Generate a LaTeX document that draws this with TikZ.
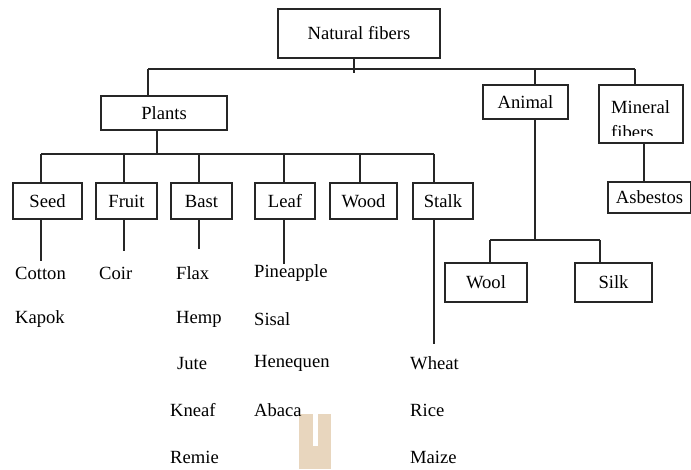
\documentclass[tikz,border=0pt]{standalone}
\usepackage{fontspec}
\setmainfont{Liberation Serif}
\begin{document}
\begin{tikzpicture}[x=1pt,y=-1pt,
  line/.style={draw=black!85,line width=1.1pt},
  box/.style={draw=black!85,line width=1.1pt,inner sep=0pt,text=black,
    font=\fontsize{18.6}{20}\selectfont},
  item/.style={anchor=west,inner sep=0pt,text=black,font=\fontsize{18.6}{20}\selectfont}]
\useasboundingbox[fill=white] (0,0) rectangle (691,469);
% watermark patch
\fill[fill={rgb,255:red,232;green,214;blue,190}] (299,414) rectangle (331,469);
\fill[white] (313,414) rectangle (318,446);
% boxes
\node[box,minimum width=162pt,minimum height=49pt] (nat) at (359,33.5) {Natural fibers};
\node[box,minimum width=126pt,minimum height=34pt] (plants) at (164,113) {Plants};
\node[box,minimum width=85pt,minimum height=34pt] (animal) at (525.5,102) {Animal};
\node[box,minimum width=84pt,minimum height=58pt] (mineral) at (641,114) {};
\node[item] (minA) at (611,107) {Mineral};
\begin{scope}
\clip (600,120) rectangle (682,135.5);
\node[item] (minB) at (611,132) {fibers};
\end{scope}
\node[box,minimum width=83pt,minimum height=31pt] (asb) at (649.5,197.5) {Asbestos};
\node[box,minimum width=69pt,minimum height=36pt] (seed) at (47.5,201) {Seed};
\node[box,minimum width=61pt,minimum height=36pt] (fruit) at (126.5,201) {Fruit};
\node[box,minimum width=61pt,minimum height=36pt] (bast) at (201.5,201) {Bast};
\node[box,minimum width=60pt,minimum height=36pt] (leaf) at (285,201) {Leaf};
\node[box,minimum width=67pt,minimum height=36pt] (wood) at (363.5,201) {Wood};
\node[box,minimum width=60pt,minimum height=36pt] (stalk) at (443,201) {Stalk};
\node[box,minimum width=82pt,minimum height=39pt] (wool) at (486,282.5) {Wool};
\node[box,minimum width=77pt,minimum height=39pt] (silk) at (613.5,282.5) {Silk};
% lists
\node[item] (cotton) at (15,273) {Cotton};
\node[item] (kapok) at (15,319) {Kapok};
\node[item] (coir) at (99,273) {Coir};
\node[item] (flax) at (176,273) {Flax};
\node[item] (hemp) at (176,319) {Hemp};
\node[item] (jute) at (177,363) {Jute};
\node[item] (kneaf) at (170,410) {Kneaf};
\node[item] (remie) at (170,457) {Remie};
\node[item] (pine) at (254,273) {Pineapple};
\node[item] (sisal) at (254,319) {Sisal};
\node[item] (hene) at (254,363) {Henequen};
\node[item] (abaca) at (254,410) {Abaca};
\node[item] (wheat) at (410,363) {Wheat};
\node[item] (rice) at (410,410) {Rice};
\node[item] (maize) at (410,457) {Maize};
% junction coordinates
\coordinate (tn) at (354,69);
\coordinate (tp) at (148,69);
\coordinate (ta) at (535,69);
\coordinate (tm) at (635,69);
\coordinate (pn) at (157,154);
\coordinate (cs) at (41,154);
\coordinate (cf) at (124,154);
\coordinate (cb) at (199,154);
\coordinate (cl) at (284,154);
\coordinate (cw) at (360,154);
\coordinate (ct) at (434,154);
\coordinate (am) at (535,240);
\coordinate (aw) at (490,240);
\coordinate (ak) at (600,240);
\coordinate (mx) at (644,160);
% top level
\draw[line] (tp) -- (tm);
\draw[line] (nat.south -| tn) -- ++(0,14);
\draw[line] (tp) -- (plants.north -| tp);
\draw[line] (ta) -- (animal.north -| ta);
\draw[line] (tm) -- (mineral.north -| tm);
\draw[line] (mineral.south -| mx) -- (asb.north -| mx);
% plants
\draw[line] (plants.south -| pn) -- (pn);
\draw[line] (cs) -- (ct);
\draw[line] (cs) -- (seed.north -| cs);
\draw[line] (cf) -- (fruit.north -| cf);
\draw[line] (cb) -- (bast.north -| cb);
\draw[line] (cl) -- (leaf.north -| cl);
\draw[line] (cw) -- (wood.north -| cw);
\draw[line] (ct) -- (stalk.north -| ct);
\draw[line] (seed.south -| cs) -- ++(0,41);
\draw[line] (fruit.south -| cf) -- ++(0,31);
\draw[line] (bast.south -| cb) -- ++(0,29);
\draw[line] (leaf.south -| cl) -- ++(0,44);
\draw[line] (stalk.south -| ct) -- ++(0,124);
% animal
\draw[line] (animal.south -| am) -- (am);
\draw[line] (aw) -- (ak);
\draw[line] (aw) -- (wool.north -| aw);
\draw[line] (ak) -- (silk.north -| ak);
\end{tikzpicture}
\end{document}
